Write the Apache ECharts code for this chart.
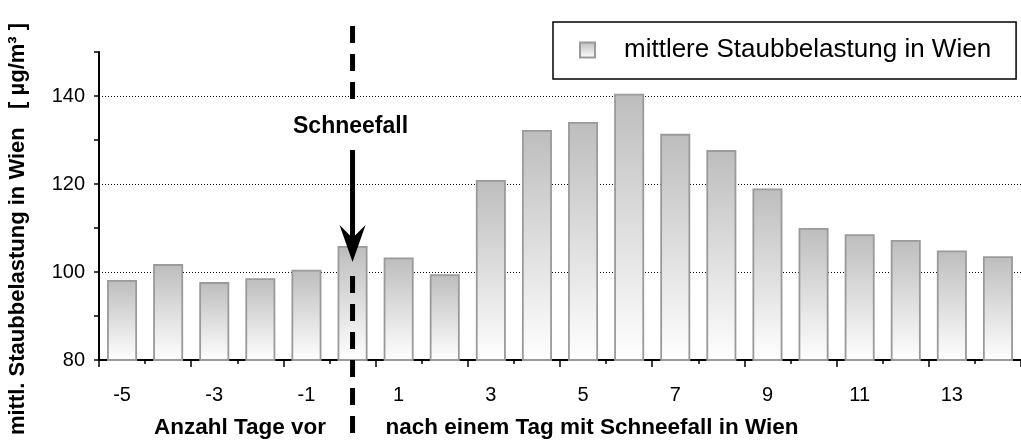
<!DOCTYPE html>
<html><head><meta charset="utf-8">
<script src="https://cdn.jsdelivr.net/npm/echarts@6/dist/echarts.min.js"></script>
<style>html,body{margin:0;padding:0;background:#fff}#c{width:1021px;height:443px}</style>
</head><body><div id="c"></div>
<script>
const categories = ['-5','-4','-3','-2','-1','0','1','2','3','4','5','6','7','8','9','10','11','12','13','14'];
const values = [98.2, 101.8, 97.7, 98.6, 100.5, 105.9, 103.3, 99.5, 120.9, 132.3, 134.1, 140.5, 131.4, 127.7, 119.0, 110.0, 108.6, 107.3, 104.9, 103.6];
const seriesName = 'mittlere Staubbelastung in Wien';
const yTickLabels = [80, 100, 120, 140];
const snowDay = '0';
const yTitle = 'mittl. Staubbelastung in Wien   [ µg/m³ ]';
const xTitleLeft = 'Anzahl Tage vor';
const xTitleRight = 'nach einem Tag mit Schneefall in Wien';
const snowLabel = 'Schneefall';

const FONT = 'Liberation Sans, Arial, Helvetica, sans-serif';
const chart = echarts.init(document.getElementById('c'), null, {renderer: 'canvas'});

const option = {
  animation: false,
  backgroundColor: '#fff',
  textStyle: {fontFamily: FONT},
  grid: {left: 99, right: -6, top: 52, bottom: 83, containLabel: false},
  legend: {
    show: true,
    left: 553, top: 22,
    orient: 'horizontal',
    backgroundColor: '#fff',
    borderColor: '#000', borderWidth: 1.5, borderRadius: 0,
    padding: [15, 25, 16, 26],
    itemWidth: 15, itemHeight: 15,
    icon: 'rect',
    textStyle: {fontSize: 26, color: '#000', fontFamily: FONT, padding: [0, 0, 0, 24]},
    data: [seriesName]
  },
  xAxis: [{
    type: 'category',
    data: categories,
    boundaryGap: true,
    axisLine: {lineStyle: {color: '#000', width: 2}},
    axisTick: {show: true, interval: 0, length: 4, lineStyle: {color: '#000', width: 1.5}},
    axisLabel: {interval: 1, color: '#000', fontSize: 20, margin: 25, fontFamily: FONT},
    splitLine: {show: false}
  }, {
    type: 'category',
    data: categories,
    position: 'bottom',
    boundaryGap: true,
    axisLine: {show: false},
    axisTick: {show: true, interval: 1, length: 7, lineStyle: {color: '#000', width: 1.5}},
    axisLabel: {show: false},
    splitLine: {show: false}
  }],
  yAxis: {
    type: 'value',
    min: 80, max: 150, interval: 10,
    axisLine: {show: true, lineStyle: {color: '#000', width: 2}},
    axisTick: {show: true, length: 5, lineStyle: {color: '#000', width: 1.5}},
    axisLabel: {
      color: '#000', fontSize: 20, margin: 14, fontFamily: FONT,
      formatter: v => (yTickLabels.indexOf(v) >= 0 ? String(v) : '')
    },
    splitLine: {show: true, lineStyle: {color: ['#000', 'rgba(0,0,0,0)'], type: [1, 2], width: 1.2}}
  },
  series: [{
    name: seriesName,
    type: 'bar',
    data: values,
    barWidth: 30,
    itemStyle: {
      color: new echarts.graphic.LinearGradient(0, 0, 0, 1, [
        {offset: 0, color: '#bdbdbd'},
        {offset: 1, color: '#ffffff'}
      ]),
      borderColor: '#9a9a9a',
      borderWidth: 1.8
    }
  }]
};
chart.setOption(option);

const idx = categories.indexOf(snowDay);
const x = chart.convertToPixel({xAxisIndex: 0}, idx);
const barTop = chart.convertToPixel({yAxisIndex: 0}, values[idx]);
const y140 = chart.convertToPixel({yAxisIndex: 0}, 140);
const H = 443;

chart.setOption({
  graphic: [
    {type: 'line', z: 100, shape: {x1: x, y1: 26, x2: x, y2: y140 + 3}, style: {stroke: '#000', lineWidth: 5, lineDash: [17, 11]}},
    {type: 'text', z: 100, x: x - 2, y: 127, style: {text: snowLabel, font: 'bold 23px ' + FONT, fill: '#000', align: 'center', verticalAlign: 'middle'}},
    {type: 'line', z: 100, shape: {x1: x, y1: 150, x2: x, y2: barTop + 2}, style: {stroke: '#000', lineWidth: 5}},
    {type: 'polygon', z: 100, shape: {points: [[x, barTop + 16], [x - 13, barTop - 21], [x, barTop - 8], [x + 13, barTop - 21]]}, style: {fill: '#000'}},
    {type: 'line', z: 100, shape: {x1: x, y1: barTop + 30, x2: x, y2: H}, style: {stroke: '#000', lineWidth: 5, lineDash: [17, 11]}},
    {type: 'text', z: 100, x: 18, y: 229, rotation: Math.PI / 2, style: {text: yTitle, font: 'bold 22px ' + FONT, fill: '#000', align: 'center', verticalAlign: 'middle'}},
    {type: 'text', z: 100, x: 240, y: 428, style: {text: xTitleLeft, font: 'bold 22.5px ' + FONT, fill: '#000', align: 'center', verticalAlign: 'middle'}},
    {type: 'text', z: 100, x: 592, y: 428, style: {text: xTitleRight, font: 'bold 22.5px ' + FONT, fill: '#000', align: 'center', verticalAlign: 'middle'}}
  ]
});
</script>
</body></html>
